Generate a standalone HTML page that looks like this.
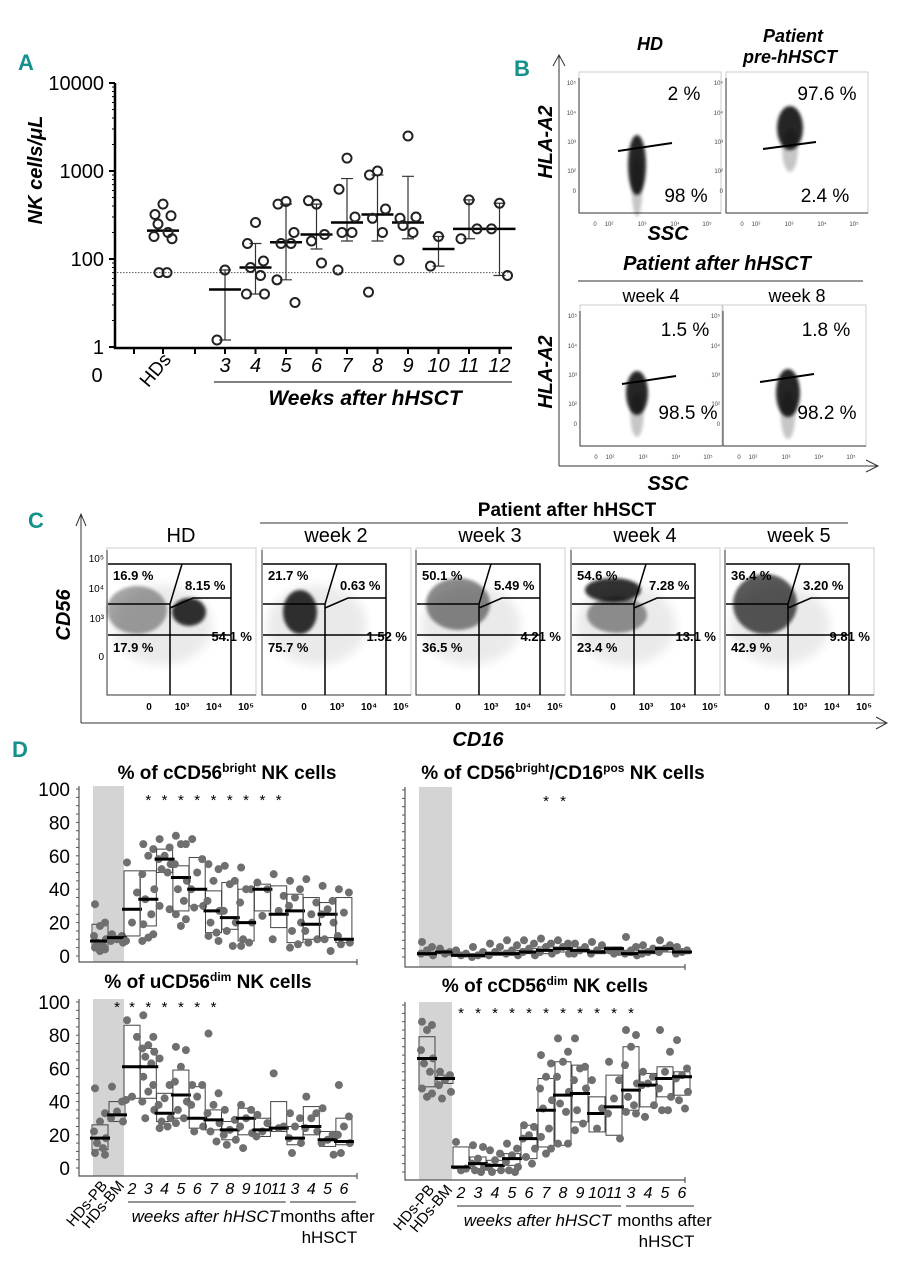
<!DOCTYPE html>
<html><head><meta charset="utf-8"><style>
html,body{margin:0;padding:0;background:#fff;}
svg{display:block;font-family:"Liberation Sans",sans-serif;}
.teal{fill:#16908c;font-weight:bold;font-family:"Liberation Sans Narrow","Liberation Sans",sans-serif;}
.bi{font-weight:bold;font-style:italic;}
.nar{font-family:"Liberation Sans Narrow","Liberation Sans",sans-serif;font-weight:bold;}
</style></head><body>
<svg id="fig" width="904" height="1280" viewBox="0 0 904 1280">
<defs>
<filter id="bl" x="-50%" y="-50%" width="200%" height="200%"><feGaussianBlur stdDeviation="1.6"/></filter>
<filter id="bl2" x="-50%" y="-50%" width="200%" height="200%"><feGaussianBlur stdDeviation="5"/></filter>
</defs>

<!-- Panel A static -->
<g id="panelA">
<text x="18" y="70" class="teal" font-size="22">A</text>
<text transform="translate(42,170) rotate(-90)" text-anchor="middle" font-size="20" class="bi">NK cells/μL</text>
<text x="97" y="382" font-size="20" text-anchor="middle">0</text>
<text transform="translate(172,360) rotate(-50)" text-anchor="end" font-size="19">HDs</text>
<line x1="214" y1="382" x2="512" y2="382" stroke="#555" stroke-width="1.5"/>
<text x="365" y="405" font-size="21" class="bi" text-anchor="middle">Weeks after hHSCT</text>
</g>

<!-- Panel B -->
<g id="panelB">
<text x="514" y="76" class="teal" font-size="22">B</text>
<line x1="559" y1="56" x2="559" y2="466" stroke="#333" stroke-width="1"/>
<polyline points="553,66 559,55 565,66" fill="none" stroke="#333"/>
<line x1="559" y1="466" x2="878" y2="466" stroke="#333" stroke-width="1"/>
<polyline points="866,460 878,466 866,472" fill="none" stroke="#333"/>
<text x="650" y="50" font-size="18" class="bi" text-anchor="middle">HD</text>
<text x="793" y="42" font-size="18" class="bi" text-anchor="middle">Patient</text>
<text x="790" y="63" font-size="18" class="bi" text-anchor="middle">pre-hHSCT</text>
<text transform="translate(552,142) rotate(-90)" font-size="20" class="bi" text-anchor="middle">HLA-A2</text>
<text transform="translate(552,372) rotate(-90)" font-size="20" class="bi" text-anchor="middle">HLA-A2</text>
<text x="668" y="240" font-size="20" class="bi" text-anchor="middle">SSC</text>
<text x="668" y="490" font-size="20" class="bi" text-anchor="middle">SSC</text>
<text x="717" y="270" font-size="20" class="bi" text-anchor="middle">Patient after hHSCT</text>
<line x1="578" y1="281" x2="863" y2="281" stroke="#333"/>
<text x="651" y="302" font-size="18" text-anchor="middle">week 4</text>
<text x="797" y="302" font-size="18" text-anchor="middle">week 8</text>
<g id="bplots"></g>
</g>

<!-- Panel C -->
<g id="panelC">
<text x="28" y="528" class="teal" font-size="22">C</text>
<line x1="81" y1="515" x2="81" y2="723" stroke="#333"/>
<polyline points="76,526 81,514 86,526" fill="none" stroke="#333"/>
<line x1="81" y1="723" x2="887" y2="723" stroke="#333"/>
<polyline points="876,717 887,723 876,729" fill="none" stroke="#333"/>
<text x="567" y="516" font-size="19" font-weight="bold" text-anchor="middle">Patient after hHSCT</text>
<line x1="260" y1="523" x2="848" y2="523" stroke="#333"/>
<text transform="translate(70,615) rotate(-90)" font-size="20" class="bi" text-anchor="middle">CD56</text>
<text x="478" y="746" font-size="20" class="bi" text-anchor="middle">CD16</text>
<g id="cplots"></g>
</g>

<!-- Panel D -->
<g id="panelD">
<text x="12" y="757" class="teal" font-size="22">D</text>
</g>
<g id="chartA"></g>
<g id="chartD"></g>
</svg>
<script>
// ===== Panel A data =====
const A_groups = ['HDs','3','4','5','6','7','8','9','10','11','12'];
const A_ticks = [10,100,1000,10000];
const A_tickLabels = ['1','100','1000','10000'];
const A_points = [
 [420,320,310,250,200,180,170,70,70],
 [75,12],
 [260,150,95,80,65,40,40],
 [450,420,200,150,150,58,32],
 [420,460,190,160,90],
 [1400,620,300,200,200,75],
 [1000,900,370,290,200,42],
 [2500,290,300,240,200,97],
 [180,83],
 [470,170,220],
 [430,220,65]
];
const A_medians = [210,45,80,155,190,260,320,260,130,220,220];
const A_low = [null,12,40,58,130,160,160,170,83,170,65];
const A_high = [null,75,150,420,420,820,900,870,180,470,430];
const A_threshold = 70;

// ===== Panel D data =====
const D_categories = ['HDs-PB','HDs-BM','2','3','4','5','6','7','8','9','10','11','3','4','5','6'];
const D_yTicks = [0,20,40,60,80,100];
// cCD56bright
const D1_median=[9,11,28,34,58,47,40,27,23,20,40,25,27,19,25,10];
const D1_q1=[5,9,12,18,50,27,30,14,16,9,27,17,8,10,11,8];
const D1_q3=[19,12,51,51,64,54,59,39,44,40,43,42,37,35,32,35];
const D1_points=[[31,20,18,12,10,8,6,5,4,3],[13,12,10,9,8],[56,38,20,9],[67,64,60,49,40,34,25,19,13,11,9],[70,65,60,58,55,52,50,30,28],[72,67,67,55,45,40,33,25,22,18],[70,58,50,40,30,29],[55,52,45,33,27,20,14,12,9],[54,45,43,27,20,15,6],[53,40,40,32,20,10,8,6],[44,40,24],[49,36,27,10],[45,40,35,30,20,15,7,5],[46,32,25,15,10,8],[42,33,28,25,20,10,3],[40,38,26,12,8,7]];
const D1_stars=[3,4,5,6,7,8,9,10,11];
// CD56bright/CD16pos
const D2_median=[2,3,1,1,2,2,3,4,5,4,3,5,2,3,5,3];
const D2_q1=[1,2,1,0,1,1,2,2,3,3,2,3,1,2,3,2];
const D2_q3=[3,4,2,2,3,4,5,6,6,6,4,6,4,4,6,4];
const D2_points=[[9,6,4,2,1],[5,3,2],[4,2,1],[6,3,1,0],[8,6,3,1],[10,7,4,2,1],[10,8,5,3,1],[11,8,6,3,2],[10,8,6,4,2],[8,6,4,2],[9,7,4,2],[4,3,2],[12,6,4,2,1],[7,5,3,2],[10,7,5,3],[6,4,3,2]];
const D2_stars=[7,8];
// uCD56dim
const D3_median=[18,32,61,61,33,44,30,29,23,30,23,24,18,25,17,16];
const D3_q1=[11,28,42,42,28,30,24,23,17,20,19,22,14,20,13,14];
const D3_q3=[26,40,86,72,45,59,49,35,28,36,30,40,25,37,22,30];
const D3_points=[[48,33,28,22,18,15,12,9,8],[49,40,34,30,28],[89,79,43,41],[92,79,74,72,70,67,63,55,50,46,40,35,30],[66,50,42,38,30,28,25,24],[73,71,61,52,40,35,30,27],[50,50,43,38,25,22],[81,45,38,33,27,22,16],[35,29,23,20,17,14],[38,35,30,25,21,12],[32,27,22,19],[57,25,24],[33,30,25,18,15,9],[43,33,30,24,22],[36,20,17,15,8],[50,31,25,20,15,9]];
const D3_stars=[1,2,3,4,5,6,7];
// cCD56dim
const D4_median=[68,56,3,5,4,8,20,37,46,47,35,39,49,52,56,57];
const D4_q1=[51,53,2,2,1,4,8,15,16,30,24,22,37,39,45,46];
const D4_q3=[81,58,15,9,7,11,28,56,66,64,45,58,75,59,63,60];
const D4_points=[[90,88,85,73,68,65,60,50,47,45],[60,58,55,52,48,44],[18,2,1],[16,15,8,5,3,1,0],[13,11,7,3,1,0],[17,14,10,6,3,1,0],[28,27,22,20,14,9,5],[70,65,57,50,43,38,26,21,14,11],[80,72,66,57,48,41,36,17,17],[80,63,62,55,50,37,29,25],[55,38,26],[66,55,44,35,20],[85,82,75,64,53,45,40,36,35],[60,57,53,52,40,33],[85,72,60,50,45,37,37],[79,62,58,56,48,43,38]];
const D4_stars=[2,3,4,5,6,7,8,9,10,11,12];

const NS='http://www.w3.org/2000/svg';
function mk(tag,attrs,parent){const e=document.createElementNS(NS,tag);for(const k in attrs)e.setAttribute(k,attrs[k]);parent.appendChild(e);return e;}

// ===== Draw Panel A =====
(function(){
 const g=document.getElementById('chartA');
 const yA=v=>347-(Math.log10(v)-1)*88;
 const xA=i=>i===0?163:225+(i-1)*30.5;
 const ax=mk('path',{d:'M115,83 V348 H512',fill:'none',stroke:'#000','stroke-width':2.5},g);
 
 
 for(let d=1;d<4;d++){for(let m=2;m<10;m++){const y=yA(m*Math.pow(10,d));mk('line',{x1:112,x2:115,y1:y,y2:y,stroke:'#000','stroke-width':1},g);}}
 A_ticks.forEach((t,i)=>{const y=yA(t);mk('line',{x1:109,x2:115,y1:y,y2:y,stroke:'#000','stroke-width':2},g);
  const tx=mk('text',{x:104,y:y+7,'font-size':20,'text-anchor':'end'},g);tx.textContent=A_tickLabels[i];
  
  });
 [134,163,195].concat(A_groups.slice(1).map((_,i)=>xA(i+1))).forEach(x=>mk('line',{x1:x,x2:x,y1:348,y2:354,stroke:'#000','stroke-width':2},g));
 const th=mk('line',{x1:117,x2:512,y1:yA(A_threshold),y2:yA(A_threshold),stroke:'#555','stroke-width':1,'stroke-dasharray':'1.5,1.5'},g);
 
 
 A_groups.forEach((grp,i)=>{
  const x=xA(i);
  if(i>0){const tl=mk('text',{x:x,y:372,'font-size':20,'font-style':'italic','text-anchor':'middle'},g);tl.textContent=grp;
   
   }
  if(A_low[i]!==null){
   const eb=mk('path',{d:`M${x},${yA(A_low[i])} V${yA(A_high[i])} M${x-6},${yA(A_low[i])} H${x+6} M${x-6},${yA(A_high[i])} H${x+6}`,stroke:'#333','stroke-width':1.2,fill:'none'},g);
   
   }
  const md=mk('line',{x1:x-16,x2:x+16,y1:yA(A_medians[i]),y2:yA(A_medians[i]),stroke:'#000','stroke-width':2.5},g);
  
  
  const offs=[0,-8,8,-5,5,-9,9,-4,4,0];
  A_points[i].forEach((v,j)=>{
   const c=mk('circle',{cx:x+offs[j%offs.length],cy:yA(v),r:4.5,fill:'none',stroke:'#222','stroke-width':2},g);
   
   });
 });
})();

// ===== Panel B plots =====
(function(){
 const g=document.getElementById('bplots');
 const plots=[
  {x:579,y:72,w:142,h:141,c:[637,165,9,30],gl:[618,151,672,143],t1:['2 %',684,100],t2:['98 %',686,202],name:'b-plot-hd'},
  {x:726,y:72,w:142,h:141,c:[790,128,13,22],gl:[763,149,816,142],t1:['97.6 %',827,100],t2:['2.4 %',825,202],name:'b-plot-pre'},
  {x:580,y:305,w:142,h:141,c:[637,393,11,22],gl:[622,384,676,376],t1:['1.5 %',685,336],t2:['98.5 %',688,419],name:'b-plot-week4'},
  {x:723,y:305,w:143,h:141,c:[788,393,12,24],gl:[760,382,814,374],t1:['1.8 %',826,336],t2:['98.2 %',827,419],name:'b-plot-week8'}];
 plots.forEach(p=>{
  const r=mk('rect',{x:p.x,y:p.y,width:p.w,height:p.h,fill:'#fff',stroke:'#ccc','stroke-width':1},g);
  
  
  mk('path',{d:`M${p.x},${p.y+6} V${p.y+p.h} H${p.x+p.w}`,stroke:'#333',fill:'none'},g);
  mk('ellipse',{cx:p.c[0],cy:p.c[1]+22,rx:p.c[2]*0.6,ry:p.c[3],fill:'#000',opacity:0.22,filter:'url(#bl)'},g);
  mk('ellipse',{cx:p.c[0],cy:p.c[1],rx:p.c[2],ry:p.c[3],fill:'#000',opacity:0.85,filter:'url(#bl)'},g);
  mk('line',{x1:p.gl[0],y1:p.gl[1],x2:p.gl[2],y2:p.gl[3],stroke:'#000','stroke-width':2},g);
  [p.t1,p.t2].forEach(t=>{const tx=mk('text',{x:t[1],y:t[2],'font-size':19,'text-anchor':'middle'},g);tx.textContent=t[0];
   
   });
  [['0',p.x+16],['10²',p.x+30],['10³',p.x+63],['10⁴',p.x+96],['10⁵',p.x+128]].forEach(t=>{const tx=mk('text',{x:t[1],y:p.y+p.h+13,'font-size':6,'text-anchor':'middle',fill:'#444'},g);tx.textContent=t[0];});
  [['10⁵',p.y+13],['10⁴',p.y+43],['10³',p.y+72],['10²',p.y+101],['0',p.y+121]].forEach(t=>{const tx=mk('text',{x:p.x-3,y:t[1],'font-size':6,'text-anchor':'end',fill:'#444'},g);tx.textContent=t[0];});
 });
})();

// ===== Panel C plots =====
(function(){
 const g=document.getElementById('cplots');
 const boxes=[
  {x:107,t:'HD',p:['16.9 %','8.15 %','54.1 %','17.9 %'],bl:[[30,610,30,24,0.35],[82,612,17,14,0.8]]},
  {x:262,t:'week 2',p:['21.7 %','0.63 %','1.52 %','75.7 %'],bl:[[38,612,17,22,0.8]]},
  {x:416,t:'week 3',p:['50.1 %','5.49 %','4.21 %','36.5 %'],bl:[[42,604,32,26,0.45]]},
  {x:571,t:'week 4',p:['54.6 %','7.28 %','13.1 %','23.4 %'],bl:[[42,590,28,12,0.8],[46,615,30,18,0.4]]},
  {x:725,t:'week 5',p:['36.4 %','3.20 %','9.81 %','42.9 %'],bl:[[40,604,32,30,0.65]]}];
 boxes.forEach((b,i)=>{
  const x=b.x;
  const r=mk('rect',{x:x,y:548,width:149,height:147,fill:'#fff',stroke:'#ccc'},g);
  
  
  mk('path',{d:`M${x},550 V695 H${x+149}`,stroke:'#333',fill:'none'},g);
  const tt=mk('text',{x:x+74,y:542,'font-size':20,'text-anchor':'middle','font-family':'"Liberation Sans Narrow","Liberation Sans",sans-serif'},g);tt.textContent=b.t;
  
  
  mk('ellipse',{cx:x+55,cy:625,rx:50,ry:40,fill:'#000',opacity:0.08,filter:'url(#bl2)'},g);
  b.bl.forEach(e=>mk('ellipse',{cx:x+e[0],cy:e[1],rx:e[2],ry:e[3],fill:'#000',opacity:e[4],filter:'url(#bl)'},g));
  mk('path',{d:`M${x+1},564 H${x+124} V695 M${x+63},604 V695 M${x+1},604 H${x+63} L${x+75},564 M${x+63},608 L${x+86},598 H${x+124} M${x+1},635 H${x+124}`,stroke:'#000','stroke-width':1.5,fill:'none'},g);
  const pos=[[x+6,580,'start'],[x+78,590,'start'],[x+145,641,'end'],[x+6,652,'start']];
  b.p.forEach((s,j)=>{const tx=mk('text',{x:pos[j][0],y:pos[j][1],'font-size':13,'text-anchor':pos[j][2],'class':'nar'},g);tx.textContent=s;
   
   });
  [['0',42],['10³',75],['10⁴',107],['10⁵',139]].forEach(t=>{const tx=mk('text',{x:x+t[1],y:710,'font-size':10,'text-anchor':'middle','class':'nar','font-weight':'normal'},g);tx.textContent=t[0];});
  if(i===0){[['10⁵',562],['10⁴',592],['10³',622],['0',660]].forEach(t=>{const tx=mk('text',{x:x-3,y:t[1],'font-size':10,'text-anchor':'end','font-family':'"Liberation Sans Narrow",sans-serif'},g);tx.textContent=t[0];});}
 });
})();

// ===== Panel D charts =====
function drawD(cfg){
 const g=mk('g',{},document.getElementById('chartD'));
 
 
 const yS=v=>cfg.y0-(cfg.y0-cfg.y100)*v/100;
 const xS=i=>i<2?cfg.xpb+i*cfg.bmStep:cfg.x2+(i-2)*cfg.step;
 mk('rect',{x:cfg.bandX,y:cfg.y100-3,width:cfg.bandW,height:cfg.axisY-cfg.y100+3,fill:'#d4d4d4'},g);
 mk('path',{d:`M${cfg.axX},${cfg.y100-3} V${cfg.axisY} H${cfg.axEnd} M${cfg.axEnd},${cfg.axisY-3} V${cfg.axisY+3}`,stroke:'#555','stroke-width':1.2,fill:'none'},g);
 for(let v=0;v<=100;v+=5){mk('line',{x1:cfg.axX-3,x2:cfg.axX,y1:yS(v),y2:yS(v),stroke:'#555','stroke-width':1},g);}
 if(cfg.labels){D_yTicks.forEach(t=>{const tx=mk('text',{x:cfg.axX-9,y:yS(t)+7,'font-size':19,'text-anchor':'end'},g);tx.textContent=t;
  
  });}
 const ti=mk('text',{x:cfg.titleX,y:cfg.titleY,'font-size':19,'font-weight':'bold','text-anchor':'middle'},g);
 ti.innerHTML=cfg.title;
 
 
 cfg.stars.forEach(i=>{const s=mk('text',{x:xS(i),y:cfg.starY,'font-size':15,'text-anchor':'middle'},g);s.textContent='*';
  
  });
 const offs=[-5,5,0,-6,6,-3,3];
 D_categories.forEach((c,i)=>{
  const x=xS(i);
  const bx=mk('rect',{x:x-8,y:yS(cfg.q3[i]),width:16,height:Math.max(1,yS(cfg.q1[i])-yS(cfg.q3[i])),fill:'none',stroke:'#444','stroke-width':1},g);
  
  
  cfg.pts[i].forEach((v,j)=>{const p=mk('circle',{cx:x+offs[j%offs.length],cy:yS(v),r:4,fill:'#6f6f6f'},g);
   
   });
  const m=mk('line',{x1:x-10,x2:x+10,y1:yS(cfg.med[i]),y2:yS(cfg.med[i]),stroke:'#000','stroke-width':3},g);
  
  
 });
 if(cfg.xlabels){
  D_categories.forEach((c,i)=>{
   if(i<2){const t=mk('text',{transform:`translate(${xS(i)+8},${cfg.axisY+10}) rotate(-50)`,'font-size':15,'text-anchor':'end'},g);t.textContent=c;
    
    }
   else{const t=mk('text',{x:xS(i),y:cfg.axisY+18,'font-size':16,'font-style':'italic','text-anchor':'middle'},g);t.textContent=c;
    
    }
  });
  const by=cfg.axisY+26;
  mk('line',{x1:xS(2)-4,x2:xS(11)+7,y1:by,y2:by,stroke:'#555','stroke-width':1.2},g);
  mk('line',{x1:xS(12)-5,x2:xS(15)+12,y1:by,y2:by,stroke:'#555','stroke-width':1.2},g);
  const w=mk('text',{x:(xS(2)+xS(11))/2,y:by+20,'font-size':17,'font-style':'italic','text-anchor':'middle'},g);w.textContent='weeks after hHSCT';
  
  
  const mo=mk('text',{x:(xS(12)+xS(15))/2+8,y:by+20,'font-size':17,'text-anchor':'middle'},g);mo.textContent='months after';
  
  
  const mo2=mk('text',{x:(xS(12)+xS(15))/2+10,y:by+41,'font-size':17,'text-anchor':'middle'},g);mo2.textContent='hHSCT';
 }
}
const L={axX:79,axEnd:357,xpb:100,bmStep:17,x2:132,step:16.3,bandX:93,bandW:31};
const R={axX:405,axEnd:685,xpb:427,bmStep:18,x2:461,step:17,bandX:419,bandW:33};
drawD(Object.assign({},L,{name:'d-chart-ccd56bright',y0:956,y100:789,axisY:962,labels:true,xlabels:false,title:'% of cCD56<tspan font-size="12" dy="-7">bright</tspan><tspan dy="7"> NK cells</tspan>',titleX:227,titleY:779,starY:805,stars:D1_stars,med:D1_median,q1:D1_q1,q3:D1_q3,pts:D1_points}));
drawD(Object.assign({},R,{name:'d-chart-cd16pos',y0:957,y100:790,axisY:967,labels:false,xlabels:false,title:'% of CD56<tspan font-size="12" dy="-7">bright</tspan><tspan dy="7">/CD16</tspan><tspan font-size="12" dy="-7">pos</tspan><tspan dy="7"> NK cells</tspan>',titleX:563,titleY:779,starY:806,stars:D2_stars,med:D2_median,q1:D2_q1,q3:D2_q3,pts:D2_points}));
drawD(Object.assign({},L,{name:'d-chart-ucd56dim',y0:1168,y100:1002,axisY:1176,labels:true,xlabels:true,title:'% of uCD56<tspan font-size="12" dy="-7">dim</tspan><tspan dy="7"> NK cells</tspan>',titleX:208,titleY:988,starY:1012,stars:D3_stars,med:D3_median,q1:D3_q1,q3:D3_q3,pts:D3_points}));
drawD(Object.assign({},R,{name:'d-chart-ccd56dim',y0:1172,y100:1005,axisY:1180,labels:false,xlabels:true,title:'% of cCD56<tspan font-size="12" dy="-7">dim</tspan><tspan dy="7"> NK cells</tspan>',titleX:545,titleY:992,starY:1018,stars:D4_stars,med:D4_median,q1:D4_q1,q3:D4_q3,pts:D4_points}));
</script>
</body></html>
